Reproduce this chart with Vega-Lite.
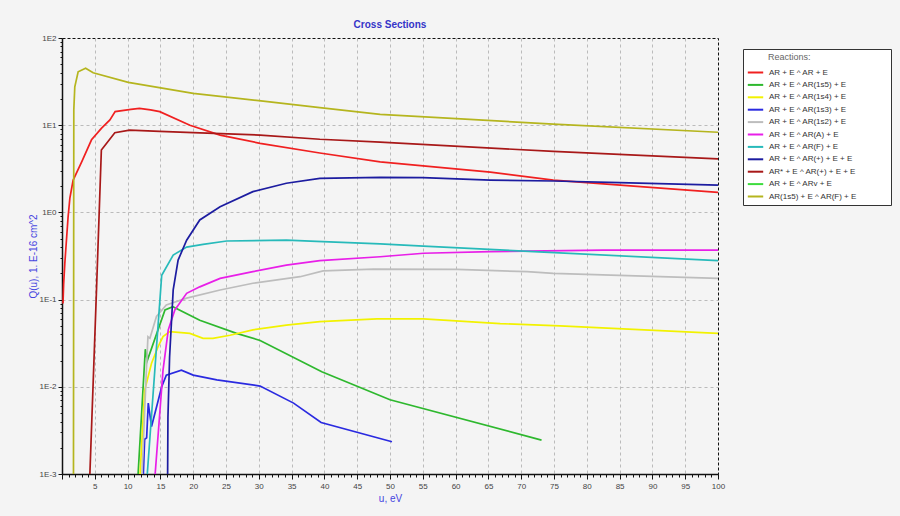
{
  "$schema": "https://vega.github.io/schema/vega-lite/v6.json",
  "width": 656,
  "height": 436,
  "autosize": "none",
  "padding": {"left": 62, "top": 38, "right": 182, "bottom": 42},
  "background": "#f4f4f4",
  "title": {"text": "Cross Sections", "fontSize": 10, "fontWeight": "bold", "color": "#3535c8", "font": "Liberation Sans", "anchor": "middle", "offset": 4},
  "data": {"values": [
    {"r": "AR + E ^ AR + E", "u": 0.15, "q": 0.09},
    {"r": "AR + E ^ AR + E", "u": 0.25, "q": 0.15},
    {"r": "AR + E ^ AR + E", "u": 0.43, "q": 0.26},
    {"r": "AR + E ^ AR + E", "u": 0.93, "q": 0.89},
    {"r": "AR + E ^ AR + E", "u": 1.2, "q": 1.46},
    {"r": "AR + E ^ AR + E", "u": 1.7, "q": 2.35},
    {"r": "AR + E ^ AR + E", "u": 3.0, "q": 3.8},
    {"r": "AR + E ^ AR + E", "u": 4.5, "q": 6.8},
    {"r": "AR + E ^ AR + E", "u": 6.0, "q": 9.2},
    {"r": "AR + E ^ AR + E", "u": 7.3, "q": 11.5},
    {"r": "AR + E ^ AR + E", "u": 8.1, "q": 14.3},
    {"r": "AR + E ^ AR + E", "u": 10.5, "q": 15.2},
    {"r": "AR + E ^ AR + E", "u": 11.8, "q": 15.6},
    {"r": "AR + E ^ AR + E", "u": 13.5, "q": 15.0},
    {"r": "AR + E ^ AR + E", "u": 14.9, "q": 14.3},
    {"r": "AR + E ^ AR + E", "u": 19.5, "q": 10.0},
    {"r": "AR + E ^ AR + E", "u": 24.1, "q": 7.7},
    {"r": "AR + E ^ AR + E", "u": 30.2, "q": 6.2},
    {"r": "AR + E ^ AR + E", "u": 39.3, "q": 4.8},
    {"r": "AR + E ^ AR + E", "u": 48.5, "q": 3.8},
    {"r": "AR + E ^ AR + E", "u": 65.3, "q": 2.9},
    {"r": "AR + E ^ AR + E", "u": 74.9, "q": 2.35},
    {"r": "AR + E ^ AR + E", "u": 85.1, "q": 2.06},
    {"r": "AR + E ^ AR + E", "u": 100, "q": 1.7},

    {"r": "AR + E ^ AR(1s5) + E", "u": 11.6, "q": 0.001},
    {"r": "AR + E ^ AR(1s5) + E", "u": 12.7, "q": 0.027},
    {"r": "AR + E ^ AR(1s5) + E", "u": 13.0, "q": 0.02},
    {"r": "AR + E ^ AR(1s5) + E", "u": 15.7, "q": 0.076},
    {"r": "AR + E ^ AR(1s5) + E", "u": 16.9, "q": 0.083},
    {"r": "AR + E ^ AR(1s5) + E", "u": 21.0, "q": 0.058},
    {"r": "AR + E ^ AR(1s5) + E", "u": 26.6, "q": 0.041},
    {"r": "AR + E ^ AR(1s5) + E", "u": 30.2, "q": 0.034},
    {"r": "AR + E ^ AR(1s5) + E", "u": 39.6, "q": 0.0149},
    {"r": "AR + E ^ AR(1s5) + E", "u": 50.0, "q": 0.0071},
    {"r": "AR + E ^ AR(1s5) + E", "u": 73.1, "q": 0.00245},

    {"r": "AR + E ^ AR(1s4) + E", "u": 11.9, "q": 0.001},
    {"r": "AR + E ^ AR(1s4) + E", "u": 12.6, "q": 0.0091},
    {"r": "AR + E ^ AR(1s4) + E", "u": 13.65, "q": 0.0186},
    {"r": "AR + E ^ AR(1s4) + E", "u": 14.66, "q": 0.029},
    {"r": "AR + E ^ AR(1s4) + E", "u": 15.4, "q": 0.0376},
    {"r": "AR + E ^ AR(1s4) + E", "u": 16.4, "q": 0.043},
    {"r": "AR + E ^ AR(1s4) + E", "u": 19.5, "q": 0.041},
    {"r": "AR + E ^ AR(1s4) + E", "u": 21.5, "q": 0.036},
    {"r": "AR + E ^ AR(1s4) + E", "u": 23.0, "q": 0.036},
    {"r": "AR + E ^ AR(1s4) + E", "u": 25.6, "q": 0.039},
    {"r": "AR + E ^ AR(1s4) + E", "u": 29.1, "q": 0.045},
    {"r": "AR + E ^ AR(1s4) + E", "u": 34.2, "q": 0.051},
    {"r": "AR + E ^ AR(1s4) + E", "u": 39.3, "q": 0.056},
    {"r": "AR + E ^ AR(1s4) + E", "u": 48.0, "q": 0.06},
    {"r": "AR + E ^ AR(1s4) + E", "u": 55.1, "q": 0.06},
    {"r": "AR + E ^ AR(1s4) + E", "u": 66.8, "q": 0.053},
    {"r": "AR + E ^ AR(1s4) + E", "u": 75.9, "q": 0.05},
    {"r": "AR + E ^ AR(1s4) + E", "u": 100, "q": 0.041},

    {"r": "AR + E ^ AR(1s3) + E", "u": 12.4, "q": 0.001},
    {"r": "AR + E ^ AR(1s3) + E", "u": 12.6, "q": 0.0025},
    {"r": "AR + E ^ AR(1s3) + E", "u": 12.9, "q": 0.0026},
    {"r": "AR + E ^ AR(1s3) + E", "u": 13.15, "q": 0.0065},
    {"r": "AR + E ^ AR(1s3) + E", "u": 13.65, "q": 0.0035},
    {"r": "AR + E ^ AR(1s3) + E", "u": 15.2, "q": 0.01},
    {"r": "AR + E ^ AR(1s3) + E", "u": 15.9, "q": 0.0136},
    {"r": "AR + E ^ AR(1s3) + E", "u": 18.2, "q": 0.0155},
    {"r": "AR + E ^ AR(1s3) + E", "u": 20.0, "q": 0.0136},
    {"r": "AR + E ^ AR(1s3) + E", "u": 23.6, "q": 0.012},
    {"r": "AR + E ^ AR(1s3) + E", "u": 30.2, "q": 0.0102},
    {"r": "AR + E ^ AR(1s3) + E", "u": 35.3, "q": 0.0065},
    {"r": "AR + E ^ AR(1s3) + E", "u": 39.5, "q": 0.0039},
    {"r": "AR + E ^ AR(1s3) + E", "u": 50.3, "q": 0.00234},

    {"r": "AR + E ^ AR(1s2) + E", "u": 12.2, "q": 0.001},
    {"r": "AR + E ^ AR(1s2) + E", "u": 12.8, "q": 0.012},
    {"r": "AR + E ^ AR(1s2) + E", "u": 13.1, "q": 0.0376},
    {"r": "AR + E ^ AR(1s2) + E", "u": 13.4, "q": 0.036},
    {"r": "AR + E ^ AR(1s2) + E", "u": 14.4, "q": 0.064},
    {"r": "AR + E ^ AR(1s2) + E", "u": 15.9, "q": 0.087},
    {"r": "AR + E ^ AR(1s2) + E", "u": 19.0, "q": 0.104},
    {"r": "AR + E ^ AR(1s2) + E", "u": 24.1, "q": 0.129},
    {"r": "AR + E ^ AR(1s2) + E", "u": 29.1, "q": 0.154},
    {"r": "AR + E ^ AR(1s2) + E", "u": 36.3, "q": 0.183},
    {"r": "AR + E ^ AR(1s2) + E", "u": 39.8, "q": 0.213},
    {"r": "AR + E ^ AR(1s2) + E", "u": 47.5, "q": 0.224},
    {"r": "AR + E ^ AR(1s2) + E", "u": 60.2, "q": 0.222},
    {"r": "AR + E ^ AR(1s2) + E", "u": 70.9, "q": 0.209},
    {"r": "AR + E ^ AR(1s2) + E", "u": 74.9, "q": 0.2},
    {"r": "AR + E ^ AR(1s2) + E", "u": 100, "q": 0.175},

    {"r": "AR + E ^ AR(A) + E", "u": 14.2, "q": 0.001},
    {"r": "AR + E ^ AR(A) + E", "u": 15.4, "q": 0.0155},
    {"r": "AR + E ^ AR(A) + E", "u": 16.2, "q": 0.045},
    {"r": "AR + E ^ AR(A) + E", "u": 17.2, "q": 0.076},
    {"r": "AR + E ^ AR(A) + E", "u": 19.0, "q": 0.118},
    {"r": "AR + E ^ AR(A) + E", "u": 21.0, "q": 0.14},
    {"r": "AR + E ^ AR(A) + E", "u": 24.1, "q": 0.175},
    {"r": "AR + E ^ AR(A) + E", "u": 29.1, "q": 0.209},
    {"r": "AR + E ^ AR(A) + E", "u": 34.2, "q": 0.249},
    {"r": "AR + E ^ AR(A) + E", "u": 39.3, "q": 0.28},
    {"r": "AR + E ^ AR(A) + E", "u": 48.5, "q": 0.31},
    {"r": "AR + E ^ AR(A) + E", "u": 55.1, "q": 0.34},
    {"r": "AR + E ^ AR(A) + E", "u": 65.3, "q": 0.355},
    {"r": "AR + E ^ AR(A) + E", "u": 82.5, "q": 0.37},
    {"r": "AR + E ^ AR(A) + E", "u": 100, "q": 0.37},

    {"r": "AR + E ^ AR(F) + E", "u": 13.0, "q": 0.001},
    {"r": "AR + E ^ AR(F) + E", "u": 15.2, "q": 0.19},
    {"r": "AR + E ^ AR(F) + E", "u": 16.95, "q": 0.324},
    {"r": "AR + E ^ AR(F) + E", "u": 19.0, "q": 0.4},
    {"r": "AR + E ^ AR(F) + E", "u": 21.5, "q": 0.43},
    {"r": "AR + E ^ AR(F) + E", "u": 25.1, "q": 0.47},
    {"r": "AR + E ^ AR(F) + E", "u": 34.2, "q": 0.48},
    {"r": "AR + E ^ AR(F) + E", "u": 38.8, "q": 0.465},
    {"r": "AR + E ^ AR(F) + E", "u": 48.5, "q": 0.435},
    {"r": "AR + E ^ AR(F) + E", "u": 55.1, "q": 0.41},
    {"r": "AR + E ^ AR(F) + E", "u": 71.9, "q": 0.355},
    {"r": "AR + E ^ AR(F) + E", "u": 100, "q": 0.28},

    {"r": "AR + E ^ AR(+) + E + E", "u": 16.1, "q": 0.001},
    {"r": "AR + E ^ AR(+) + E + E", "u": 16.15, "q": 0.0045},
    {"r": "AR + E ^ AR(+) + E + E", "u": 16.4, "q": 0.022},
    {"r": "AR + E ^ AR(+) + E + E", "u": 16.95, "q": 0.129},
    {"r": "AR + E ^ AR(+) + E + E", "u": 17.7, "q": 0.284},
    {"r": "AR + E ^ AR(+) + E + E", "u": 19.0, "q": 0.48},
    {"r": "AR + E ^ AR(+) + E + E", "u": 21.0, "q": 0.82},
    {"r": "AR + E ^ AR(+) + E + E", "u": 24.1, "q": 1.16},
    {"r": "AR + E ^ AR(+) + E + E", "u": 29.1, "q": 1.73},
    {"r": "AR + E ^ AR(+) + E + E", "u": 34.2, "q": 2.16},
    {"r": "AR + E ^ AR(+) + E + E", "u": 39.3, "q": 2.46},
    {"r": "AR + E ^ AR(+) + E + E", "u": 48.5, "q": 2.52},
    {"r": "AR + E ^ AR(+) + E + E", "u": 55.0, "q": 2.5},
    {"r": "AR + E ^ AR(+) + E + E", "u": 65.3, "q": 2.35},
    {"r": "AR + E ^ AR(+) + E + E", "u": 74.9, "q": 2.29},
    {"r": "AR + E ^ AR(+) + E + E", "u": 85.0, "q": 2.19},
    {"r": "AR + E ^ AR(+) + E + E", "u": 100, "q": 2.06},

    {"r": "AR* + E ^ AR(+) + E + E", "u": 4.25, "q": 0.001},
    {"r": "AR* + E ^ AR(+) + E + E", "u": 5.26, "q": 0.13},
    {"r": "AR* + E ^ AR(+) + E + E", "u": 6.0, "q": 5.2},
    {"r": "AR* + E ^ AR(+) + E + E", "u": 8.05, "q": 8.2},
    {"r": "AR* + E ^ AR(+) + E + E", "u": 10.3, "q": 8.8},
    {"r": "AR* + E ^ AR(+) + E + E", "u": 14.9, "q": 8.5},
    {"r": "AR* + E ^ AR(+) + E + E", "u": 20.0, "q": 8.2},
    {"r": "AR* + E ^ AR(+) + E + E", "u": 30.2, "q": 7.7},
    {"r": "AR* + E ^ AR(+) + E + E", "u": 39.3, "q": 6.9},
    {"r": "AR* + E ^ AR(+) + E + E", "u": 48.5, "q": 6.4},
    {"r": "AR* + E ^ AR(+) + E + E", "u": 74.9, "q": 5.0},
    {"r": "AR* + E ^ AR(+) + E + E", "u": 100, "q": 4.1},

    {"r": "AR(1s5) + E ^ AR(F) + E", "u": 1.75, "q": 0.001},
    {"r": "AR(1s5) + E ^ AR(F) + E", "u": 1.8, "q": 15},
    {"r": "AR(1s5) + E ^ AR(F) + E", "u": 1.95, "q": 27.6},
    {"r": "AR(1s5) + E ^ AR(F) + E", "u": 2.46, "q": 41},
    {"r": "AR(1s5) + E ^ AR(F) + E", "u": 3.6, "q": 45},
    {"r": "AR(1s5) + E ^ AR(F) + E", "u": 4.75, "q": 40},
    {"r": "AR(1s5) + E ^ AR(F) + E", "u": 10.1, "q": 31},
    {"r": "AR(1s5) + E ^ AR(F) + E", "u": 20.0, "q": 23.2},
    {"r": "AR(1s5) + E ^ AR(F) + E", "u": 30.0, "q": 19.1},
    {"r": "AR(1s5) + E ^ AR(F) + E", "u": 39.3, "q": 15.9},
    {"r": "AR(1s5) + E ^ AR(F) + E", "u": 48.5, "q": 13.3},
    {"r": "AR(1s5) + E ^ AR(F) + E", "u": 74.9, "q": 10.3},
    {"r": "AR(1s5) + E ^ AR(F) + E", "u": 100, "q": 8.3}
  ]},
  "mark": {"type": "line", "strokeWidth": 1.7, "clip": true},
  "encoding": {
    "x": {
      "field": "u", "type": "quantitative",
      "scale": {"domain": [0, 100], "nice": false, "zero": false},
      "axis": {
        "title": "u, eV",
        "values": [0,1,2,3,4,5,6,7,8,9,10,11,12,13,14,15,16,17,18,19,20,21,22,23,24,25,26,27,28,29,30,31,32,33,34,35,36,37,38,39,40,41,42,43,44,45,46,47,48,49,50,51,52,53,54,55,56,57,58,59,60,61,62,63,64,65,66,67,68,69,70,71,72,73,74,75,76,77,78,79,80,81,82,83,84,85,86,87,88,89,90,91,92,93,94,95,96,97,98,99,100],
        "labelExpr": "datum.value % 5 === 0 && datum.value > 0 ? datum.label : ''",
        "labelOverlap": false,
        "labelFlush": false,
        "labelPadding": 3,
        "tickSize": {"condition": {"test": "datum.value % 5 === 0", "value": 5}, "value": 3},
        "gridOpacity": {"condition": {"test": "datum.value % 5 === 0 && datum.value > 0 && datum.value < 100", "value": 1}, "value": 0},
        "titlePadding": 3
      }
    },
    "y": {
      "field": "q", "type": "quantitative",
      "scale": {"type": "log", "domain": [0.001, 100], "nice": false},
      "axis": {
        "title": "Q(u), 1. E-16 cm^2",
        "values": [0.001,0.002,0.003,0.004,0.005,0.006,0.007,0.008,0.009,0.01,0.02,0.03,0.04,0.05,0.06,0.07,0.08,0.09,0.1,0.2,0.3,0.4,0.5,0.6,0.7,0.8,0.9,1,2,3,4,5,6,7,8,9,10,20,30,40,50,60,70,80,90,100],
        "labelExpr": "indexof([0.001,0.01,0.1,1,10,100], datum.value) >= 0 ? '1E' + round(log(datum.value)/LN10) : ''",
        "labelOverlap": false,
        "labelFlush": false,
        "labelPadding": 2,
        "tickSize": {"condition": {"test": "indexof([0.001,0.01,0.1,1,10,100], datum.value) >= 0", "value": 4}, "value": 2},
        "gridOpacity": {"condition": {"test": "indexof([0.01,0.1,1,10], datum.value) >= 0", "value": 1}, "value": 0},
        "titlePadding": 1
      }
    },
    "color": {
      "field": "r", "type": "nominal",
      "scale": {
        "domain": ["AR + E ^ AR + E", "AR + E ^ AR(1s5) + E", "AR + E ^ AR(1s4) + E", "AR + E ^ AR(1s3) + E", "AR + E ^ AR(1s2) + E", "AR + E ^ AR(A) + E", "AR + E ^ AR(F) + E", "AR + E ^ AR(+) + E + E", "AR* + E ^ AR(+) + E + E", "AR + E ^ ARv    + E", "AR(1s5) + E ^ AR(F) + E"],
        "range": ["#f02020", "#2eb82e", "#f2f200", "#2a2ae0", "#bdbdbd", "#e81fe8", "#27baba", "#1c1ca0", "#a81818", "#3ddc3d", "#b5b51e"]
      },
      "legend": {
        "title": "\u2800\u2800\u2800Reactions:",
        "orient": "none",
        "legendX": 681,
        "legendY": 11,
        "padding": 4,
        "fillColor": "white",
        "strokeColor": "#333",
        "symbolType": "M-1.4,0L1.4,0",
        "symbolSize": 121,
        "symbolStrokeWidth": 2,
        "symbolOffset": 2,
        "labelOffset": 7,
        "rowPadding": 1.4,
        "labelFontSize": 8,
        "labelFont": "Liberation Sans",
        "labelColor": "#333",
        "labelLimit": 250,
        "labelExpr": "datum.label + '\u2800\u2800\u2800\u2800\u2800'",
        "titleFontSize": 9,
        "titleFont": "Liberation Sans",
        "titleFontWeight": "normal",
        "titleColor": "#666",
        "titlePadding": 4
      }
    }
  },
  "config": {
    "view": {"stroke": "#111", "strokeDash": [3, 2], "strokeWidth": 1, "fill": "#f4f4f4"},
    "axis": {
      "labelFont": "Liberation Sans",
      "labelFontSize": 8,
      "labelColor": "#444",
      "domainColor": "#111",
      "domainWidth": 1.5,
      "tickColor": "#111",
      "gridColor": "#bbbbbb",
      "gridDash": [3, 3],
      "gridWidth": 1,
      "titleFont": "Liberation Sans",
      "titleFontSize": 10,
      "titleFontWeight": "normal",
      "titleColor": "#4646e0"
    }
  }
}
